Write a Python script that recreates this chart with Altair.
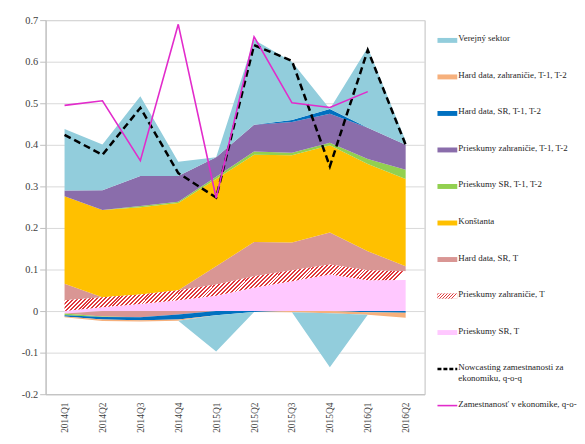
import altair as alt
import pandas as pd

quarters = ["2014Q1", "2014Q2", "2014Q3", "2014Q4", "2015Q1",
            "2015Q2", "2015Q3", "2015Q4", "2016Q1", "2016Q2"]

# contributions, listed from the bottom of the pile upwards
prieskumy_sr_t = [-0.006, 0.009, 0.017, 0.026, 0.037, 0.056, 0.072, 0.088, 0.074, 0.075]
prieskumy_zahr_t = [0.026, 0.024, 0.023, 0.024, 0.027, 0.028, 0.026, 0.024, 0.024, 0.021]
hard_sr_t = [0.040, -0.013, -0.015, -0.008, 0.044, 0.082, 0.067, 0.077, 0.046, 0.012]
konstanta = [0.210, 0.210, 0.210, 0.210, 0.210, 0.210, 0.210, 0.210, 0.210, 0.210]
prieskumy_sr_t12 = [-0.004, -0.001, 0.003, 0.003, 0.005, 0.008, 0.006, 0.006, 0.012, 0.022]
prieskumy_zahr_t12 = [0.014, 0.048, 0.072, 0.062, 0.047, 0.064, 0.074, 0.070, 0.075, 0.060]
hard_sr_t12 = [-0.003, -0.006, -0.007, -0.012, -0.010, -0.002, 0.005, 0.011, -0.003, -0.004]
hard_zahr_t12 = [-0.002, -0.004, -0.003, -0.003, 0.000, 0.000, -0.003, -0.005, -0.006, -0.012]
verejny = [0.148, 0.110, 0.192, 0.034, -0.087, 0.205, 0.140, -0.130, 0.193, 0.010]

nowcast = [0.424, 0.376, 0.489, 0.332, 0.273, 0.640, 0.602, 0.348, 0.628, 0.400]
employment = [0.495, 0.506, 0.362, 0.690, 0.272, 0.660, 0.501, 0.490, 0.528]

series_names = ["Prieskumy SR, T", "Prieskumy zahraničie, T", "Hard data, SR, T",
                "Konštanta", "Prieskumy SR, T-1, T-2", "Prieskumy zahraničie, T-1, T-2",
                "Hard data, SR, T-1, T-2", "Hard data, zahraničie, T-1, T-2", "Verejný sektor"]
series_values = [prieskumy_sr_t, prieskumy_zahr_t, hard_sr_t, konstanta, prieskumy_sr_t12,
                 prieskumy_zahr_t12, hard_sr_t12, hard_zahr_t12, verejny]
series_colors = ["#FFC8FF", "#EC8E8E", "#D99694", "#FFC000", "#92D050",
                 "#8A6DAB", "#0070C0", "#F6B07C", "#92CDDC"]
hatch_name = "Prieskumy zahraničie, T"

nowcast_label = "Nowcasting zamestnanosti za\nekonomiku, q-o-q"
employment_label = "Zamestnanosť v ekonomike, q-o-q"
legend_labels = list(reversed(series_names)) + [nowcast_label, employment_label]

FONT = "Liberation Serif"


def stripes(n, color, k, frac=0.5):
    stops = []
    for i in range(n):
        a, b, c = i / n, (i + frac) / n, (i + 1) / n
        stops += [{"offset": a, "color": color}, {"offset": b, "color": color},
                  {"offset": b, "color": "#ffffff"}, {"offset": c, "color": "#ffffff"}]
    return {"gradient": "linear", "x1": 0, "y1": 0, "x2": 1, "y2": k, "stops": stops}


rows = []
for si, (name, vals) in enumerate(zip(series_names, series_values)):
    for q, v in zip(quarters, vals):
        rows.append({"q": q, "series": name, "ord": si,
                     "pos": max(v, 0.0), "nabs": max(-v, 0.0)})
comp = pd.DataFrame(rows)
now_df = pd.DataFrame({"q": quarters, "v": nowcast})
emp_df = pd.DataFrame({"q": quarters[:len(employment)], "v": employment})

x_axis = alt.Axis(title=None, labelAngle=270, ticks=False, domainColor="#bfbfbf",
                  labelFont=FONT, labelFontSize=9.5, labelColor="#404040",
                  labelPadding=8, grid=False)
x_enc = alt.X("q:O", sort=quarters, scale=alt.Scale(type="point", padding=0.5), axis=x_axis)

y_scale = alt.Scale(domain=[-0.2, 0.7], nice=False, zero=False)
y_axis = alt.Axis(title=None, values=[-0.2, -0.1, 0, 0.1, 0.2, 0.3, 0.4, 0.5, 0.6, 0.7],
                  grid=True, gridColor="#d9d9d9", domainColor="#bfbfbf",
                  tickColor="#bfbfbf", tickSize=6, labelPadding=2,
                  labelFont=FONT, labelFontSize=10.5, labelColor="#404040",
                  labelExpr="datum.value == 0 ? '0' : (datum.value < 0 ? '-' + format(-datum.value, '.1f') : format(datum.value, '.1f'))")

color_scale = alt.Scale(domain=series_names, range=series_colors)
stack_sort = [alt.SortField("ord", order="ascending")]

pos_base = alt.Chart(comp).transform_stack(
    stack="pos", groupby=["q"], as_=["p0", "p1"], sort=stack_sort)

pos_solid = pos_base.transform_filter(alt.datum.series != hatch_name).mark_area(
    strokeWidth=0, opacity=1).encode(
    x=x_enc,
    y=alt.Y("p0:Q", scale=y_scale, axis=y_axis),
    y2="p1:Q",
    color=alt.Color("series:N", scale=color_scale, legend=None))

pos_hatch = pos_base.transform_filter(alt.datum.series == hatch_name).mark_area(
    strokeWidth=0, opacity=1, fill=stripes(90, "#E0383C", 0.136)).encode(
    x=x_enc,
    y=alt.Y("p0:Q", scale=y_scale, axis=y_axis),
    y2="p1:Q")

neg = alt.Chart(comp).transform_stack(
    stack="nabs", groupby=["q"], as_=["n0", "n1"], sort=stack_sort
).transform_calculate(m0="-datum.n0", m1="-datum.n1").mark_area(
    strokeWidth=0, opacity=1).encode(
    x=x_enc,
    y=alt.Y("m0:Q", scale=y_scale, axis=y_axis),
    y2="m1:Q",
    color=alt.Color("series:N", scale=color_scale, legend=None))

dashed = alt.Chart(now_df).mark_line(color="#000000", strokeWidth=2.5, strokeDash=[7, 4]).encode(
    x=x_enc, y=alt.Y("v:Q", scale=y_scale, axis=y_axis))
magenta = alt.Chart(emp_df).mark_line(color="#E22BCB", strokeWidth=1.6).encode(
    x=x_enc, y=alt.Y("v:Q", scale=y_scale, axis=y_axis))

main = alt.layer(pos_solid, pos_hatch, neg, dashed, magenta).properties(
    width=383, height=378,
    view=alt.ViewBackground(stroke="#bfbfbf", strokeWidth=1))

# ---- legend panel ----
leg_df = pd.DataFrame({"label": legend_labels})
ly = alt.Y("label:N", sort=legend_labels,
           scale=alt.Scale(type="band", paddingInner=0.865, paddingOuter=0.4875), axis=None)
leg_base = alt.Chart(leg_df)

leg_rect = leg_base.transform_filter(
    alt.FieldOneOfPredicate(field="label", oneOf=series_names)).mark_rect().encode(
    x=alt.value(0), x2=alt.value(20), y=ly,
    color=alt.Color("label:N", scale=color_scale, legend=None))
leg_hatch = leg_base.transform_filter(alt.datum.label == hatch_name).mark_rect(
    fill=stripes(7, "#E0383C", 0.25)).encode(x=alt.value(0), x2=alt.value(20), y=ly)
leg_dash = leg_base.transform_filter(alt.datum.label == nowcast_label).mark_rule(
    color="#000000", strokeWidth=2.5, strokeDash=[4, 2]).encode(
    x=alt.value(0), x2=alt.value(20), y=ly)
leg_mag = leg_base.transform_filter(alt.datum.label == employment_label).mark_rule(
    color="#E22BCB", strokeWidth=1.6).encode(x=alt.value(0), x2=alt.value(20), y=ly)
leg_text = leg_base.mark_text(align="left", baseline="top", dy=-6, font=FONT, fontSize=9,
                              color="#262626", lineBreak="\n", limit=122,
                              ellipsis="\u200b").encode(
    x=alt.value(21), y=ly, text="label:N")

legend = alt.layer(leg_rect, leg_hatch, leg_dash, leg_mag, leg_text).properties(
    width=120, height=410, view=alt.ViewBackground(strokeWidth=0))

chart = alt.hconcat(main, legend, spacing=13, bounds="flush").properties(
    padding={"left": 12, "top": 4, "right": 0, "bottom": 2}
).configure_view(strokeWidth=0)

chart.save("out.html", embed_options={"renderer": "svg", "actions": False})
